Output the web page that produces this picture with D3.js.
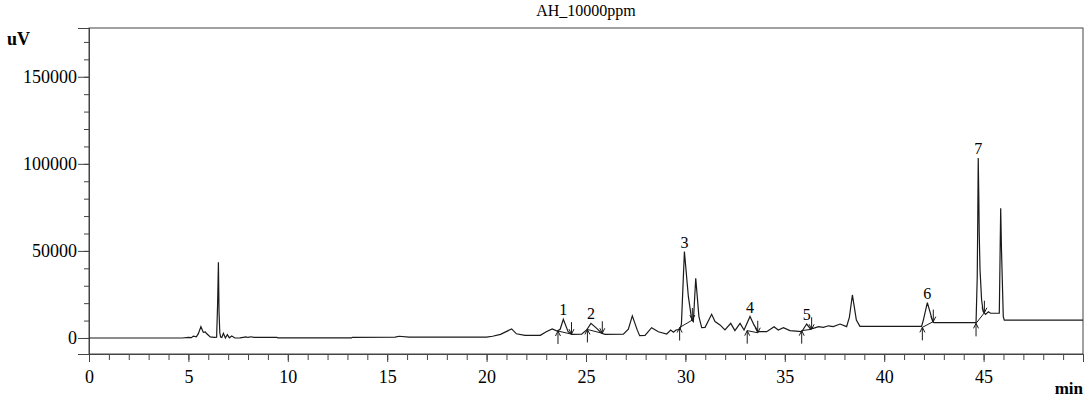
<!DOCTYPE html>
<html>
<head>
<meta charset="utf-8">
<script src="https://cdn.jsdelivr.net/npm/d3@7"></script>
<style>
  body { margin: 0; background: #fff; }
  svg { display: block; font-family: "Liberation Serif", "Times New Roman", serif; }
</style>
</head>
<body>
<div id="chart"></div>
<script>
// retention time (min) and detector signal (uV)
const times = [
  0, 4.7, 5.0, 5.15, 5.25, 5.4, 5.5, 5.63, 5.75, 5.85, 5.9, 6.1, 6.3, 6.42, 6.47, 6.51, 6.54, 6.58, 6.62,
  6.68, 6.76, 6.86, 6.96, 7.06, 7.18, 7.34, 7.6, 7.9, 8.0, 8.15, 8.3, 9.45, 9.5, 13.2, 13.25, 15.4, 15.6,
  16.1, 20.0, 20.3, 20.7, 21.26, 21.5, 21.93, 22.7, 23.0, 23.3, 23.55, 23.7, 23.86, 24.1, 24.28, 24.78,
  25.03, 25.25, 25.54, 25.79, 25.96, 26.88, 27.13, 27.33, 27.58, 27.7, 27.97, 28.3, 28.64, 29.06, 29.26,
  29.4, 29.53, 29.73, 29.8, 29.95, 30.15, 30.32, 30.4, 30.52, 30.68, 30.82, 30.99, 31.32, 31.49, 31.74,
  31.99, 32.28, 32.49, 32.75, 32.95, 33.25, 33.45, 33.67, 34.09, 34.46, 34.67, 34.93, 35.26, 35.85, 36.1,
  36.27, 36.43, 36.7, 36.94, 37.2, 37.44, 37.78, 38.11, 38.25, 38.4, 38.6, 38.78, 41.88, 41.97, 42.17,
  42.3, 42.44, 42.5, 44.62, 44.68, 44.7, 44.73, 44.76, 44.78, 44.82, 44.9, 44.98, 45.1, 45.24, 45.35,
  45.79, 45.82, 45.86, 45.9, 45.99, 46.04, 50
];
const signal = [
  0, 0, 300, 200, 1100, 700, 2500, 6500, 3200, 3500, 2700, 600, 300, 500, 20000, 43500, 15000, 3000, 500,
  300, 2700, 0, 1900, 100, 1100, 0, 100, 600, 300, 700, 400, 400, 50, 50, 400, 450, 1000,
  450, 500, 1000, 2100, 5200, 2400, 1500, 1500, 3600, 5200, 4000, 5000, 10700, 3600, 2100, 2200,
  4600, 8400, 5500, 2700, 2100, 2200, 5000, 12700, 4500, 1300, 1500, 5900, 3600, 2300, 4600,
  3300, 4600, 5000, 8000, 49600, 23700, 10300, 9400, 34300, 12300, 5900, 6100, 13600, 9400, 7500,
  4600, 8400, 4200, 8400, 4600, 12300, 7500, 3600, 3600, 6500, 4600, 5900, 4200, 3600, 8000,
  5500, 5500, 6500, 6100, 7000, 6500, 8000, 6500, 12000, 24700, 10300, 6700, 6700, 10300, 20300,
  15100, 9400, 8800, 8800, 35000, 60300, 103300, 80000, 60100, 39100, 21800, 15100, 13500, 15000, 14200,
  14200, 40000, 74500, 50600, 12300, 10300, 10300
];

// numbered peaks: apex, integration start (up arrow) and end (down arrow)
const peakIds = ['1', '2', '3', '4', '5', '6', '7'];
const apexTimes = [23.86, 25.25, 29.95, 33.25, 36.1, 42.17, 44.73];
const apexValues = [10700, 8400, 49600, 12300, 8000, 20300, 103300];
const startTimes = [23.59, 25.07, 29.71, 33.11, 35.85, 41.92, 44.62];
const startValues = [4000, 4900, 6000, 4200, 4200, 6100, 8400];
const endTimes = [24.27, 25.82, 30.35, 33.64, 36.35, 42.47, 45.04];
const endValues = [2200, 2700, 10300, 3000, 5000, 9400, 14500];

const xMajor = [0, 5, 10, 15, 20, 25, 30, 35, 40, 45];
const xMinor = d3.range(0, 50, 1);
const yMajor = [0, 50000, 100000, 150000];
const yMinor = d3.range(0, 180000, 10000);

const svgW = 1085, svgH = 402;
const margin = { top: 28, right: 2, bottom: 48, left: 89 };
const serif = '"Liberation Serif", "Times New Roman", serif';

const chart = d3.select('#chart').append('svg')
  .attr('width', svgW)
  .attr('height', svgH);

const x = d3.scaleLinear()
  .domain([0, 50])
  .range([margin.left, svgW - margin.right]);
const y = d3.scaleLinear()
  .domain([-9200, 178000])
  .range([svgH - margin.bottom, margin.top]);

const axisColor = '#444';

// plot frame
chart.append('rect')
  .attr('x', margin.left).attr('y', margin.top)
  .attr('width', svgW - margin.right - margin.left)
  .attr('height', svgH - margin.bottom - margin.top)
  .attr('fill', 'none').attr('stroke', axisColor);

// x axis: minor then major ticks
const xAxisG = chart.append('g')
  .attr('transform', `translate(0,${svgH - margin.bottom})`);
xAxisG.append('g')
  .call(d3.axisBottom(x).tickValues(xMinor).tickSize(6).tickFormat(''));
xAxisG.append('g')
  .call(d3.axisBottom(x).tickValues(xMajor).tickSize(8).tickPadding(8))
  .attr('font-family', serif).attr('font-size', 18)
  .selectAll('text').attr('fill', '#000');

// y axis
const yAxisG = chart.append('g')
  .attr('transform', `translate(${margin.left},0)`);
yAxisG.append('g')
  .call(d3.axisLeft(y).tickValues(yMinor).tickSize(5).tickFormat(''));
yAxisG.append('g')
  .call(d3.axisLeft(y).tickValues(yMajor).tickSize(11).tickPadding(1).tickFormat(d3.format('d')))
  .attr('font-family', serif).attr('font-size', 18)
  .selectAll('text').attr('fill', '#000');

chart.selectAll('.domain, .tick line').attr('stroke', axisColor);

// chromatogram trace
const trace = times.map((t, i) => [t, signal[i]]);
chart.append('path')
  .datum(trace)
  .attr('fill', 'none')
  .attr('stroke', '#1a1a1a')
  .attr('stroke-width', 1.2)
  .attr('d', d3.line().x(d => x(d[0])).y(d => y(d[1])));

// integration baselines and arrows
const marks = chart.append('g').attr('stroke', '#1a1a1a').attr('fill', 'none');
peakIds.forEach((id, i) => {
  const sx = x(startTimes[i]), sy = y(startValues[i]);
  const ex = x(endTimes[i]), ey = y(endValues[i]);
  marks.append('line')
    .attr('x1', sx).attr('y1', sy).attr('x2', ex).attr('y2', ey);
  // up arrow under the start point
  marks.append('path')
    .attr('d', `M${sx},${sy + 13}L${sx},${sy}M${sx - 2.5},${sy + 5}L${sx},${sy}L${sx + 2.5},${sy + 5}`);
  // down arrow above the end point
  marks.append('path')
    .attr('d', `M${ex},${ey - 12}L${ex},${ey}M${ex - 2.5},${ey - 5}L${ex},${ey}L${ex + 2.5},${ey - 5}`);
  // peak number
  chart.append('text')
    .attr('x', x(apexTimes[i])).attr('y', y(apexValues[i]) - 4)
    .attr('text-anchor', 'middle')
    .style('font-size', '16px')
    .text(id);
});

// title and unit labels
chart.append('text')
  .attr('x', (margin.left + svgW - margin.right) / 2).attr('y', 16)
  .attr('text-anchor', 'middle').style('font-size', '16px')
  .text('AH_10000ppm');
chart.append('text')
  .attr('x', 7).attr('y', 45)
  .style('font-size', '18px').style('font-weight', 'bold')
  .text('uV');
chart.append('text')
  .attr('x', svgW - margin.right).attr('y', 394)
  .attr('text-anchor', 'end').style('font-size', '17px').style('font-weight', 'bold')
  .text('min');
</script>
</body>
</html>
